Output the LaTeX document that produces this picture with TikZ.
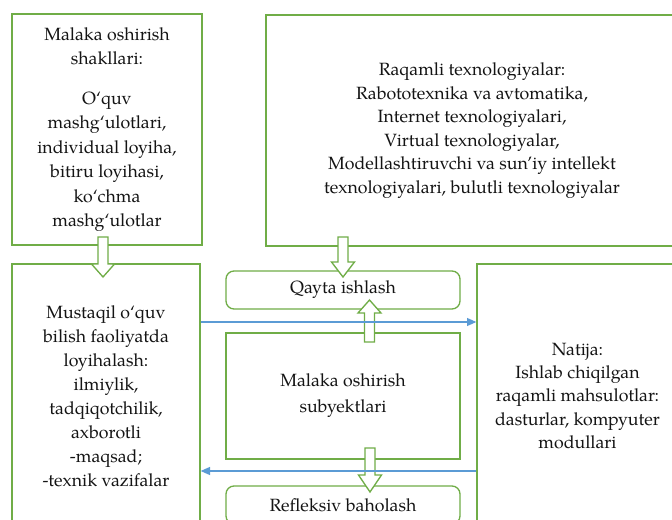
\documentclass[tikz,border=0pt]{standalone}
\usepackage{fontspec}
\setmainfont{TeX Gyre Pagella}
\usetikzlibrary{arrows.meta,calc}
\definecolor{gborder}{RGB}{112,173,71}
\definecolor{barrow}{RGB}{91,155,213}
\definecolor{txt}{RGB}{20,20,20}
\newcommand{\blockarrowpx}[4]{%
  \draw[blockarr] (#1-5,#2) -- (#1+5,#2) -- (#1+5,#3) -- (#1+11.5,#3) -- (#1,#4)
    -- (#1-11.5,#3) -- (#1-5,#3) -- cycle;}
\begin{document}
\begin{tikzpicture}[x=0.75pt,y=-0.75pt,
  box/.style={draw=gborder,line width=1pt,fill=white,inner sep=0pt,align=center,text=txt},
  rbox/.style={box,rounded corners=6pt},
  blockarr/.style={draw=gborder,line width=1pt,fill=white,line join=miter},
  bluearr/.style={draw=barrow,line width=0.9pt,-{Triangle[length=7pt,width=6pt]}}]
\useasboundingbox (0,0) rectangle (672,520);
\clip (0,0) rectangle (672,520);
\fill[white] (0,0) rectangle (672,520);

\node[box,minimum width=142.5pt,minimum height=173.25pt,font=\fontsize{13.3}{18.3}\selectfont] (A) at (107,129.5)
  {Malaka oshirish\\shakllari:\\[11.5pt]O‘quv\\mashg‘ulotlari,\\individual loyiha,\\bitiru loyihasi,\\ko‘chma\\mashg‘ulotlar};
\node[box,minimum width=309pt,minimum height=173.25pt,font=\fontsize{13.3}{17.7}\selectfont] (B) at (472,130.5)
  {Raqamli texnologiyalar:\\Rabototexnika va avtomatika,\\Internet texnologiyalari,\\Virtual texnologiyalar,\\Modellashtiruvchi va sun’iy intellekt\\texnologiyalari, bulutli texnologiyalar};
\node[box,minimum width=141pt,minimum height=198pt,font=\fontsize{13.3}{18}\selectfont] (C) at (106,396)
  {Mustaqil o‘quv\\bilish faoliyatda\\loyihalash:\\ilmiylik,\\tadqiqotchilik,\\axborotli\\-maqsad;\\-texnik vazifalar};
\node[box,minimum width=150.75pt,minimum height=198pt,font=\fontsize{13.3}{17.6}\selectfont] (N) at (577.5,396)
  {Natija:\\Ishlab chiqilgan\\raqamli mahsulotlar:\\dasturlar, kompyuter\\modullari};
\node[rbox,minimum width=175.5pt,minimum height=28.5pt,font=\fontsize{13.3}{17.6}\selectfont] (Q) at (343,290) {Qayta ishlash};
\node[box,minimum width=175.5pt,minimum height=94.5pt,font=\fontsize{13.3}{19.5}\selectfont] (S) at (343,396) {Malaka oshirish\\subyektlari};
\node[rbox,minimum width=175.5pt,minimum height=28.5pt,font=\fontsize{13.3}{17.6}\selectfont] (R) at (343,505) {Refleksiv baholash};

% block arrows
\blockarrowpx{103}{237}{264}{277}
\blockarrowpx{343}{237}{262}{277}
\blockarrowpx{369.5}{342}{313}{300}
\blockarrowpx{370}{448}{475}{492}

% blue connectors
\coordinate (ya) at (0,322);
\coordinate (yb) at (0,471);
\draw[bluearr] (C.east |- ya) -- (N.west |- ya);
\draw[bluearr] (N.west |- yb) -- (C.east |- yb);
\end{tikzpicture}
\end{document}
